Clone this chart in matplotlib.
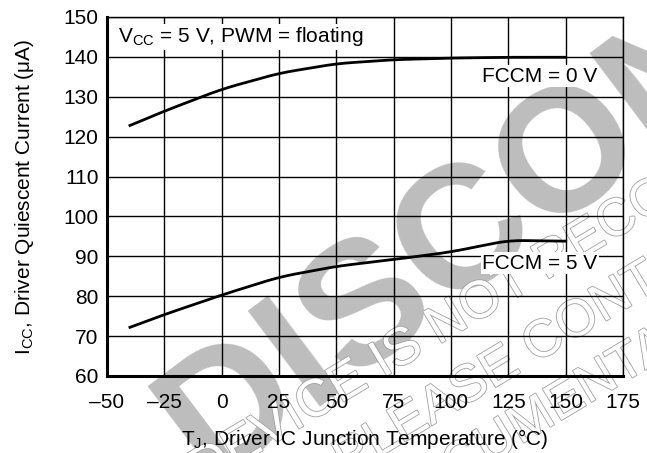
import numpy as np
import matplotlib
matplotlib.use("Agg")
import matplotlib.pyplot as plt
import matplotlib.patheffects as pe

plt.rcParams['font.family'] = ['Liberation Sans', 'DejaVu Sans']

# junction temperature (C)
temp = [-40, -25, 0, 25, 50, 75, 100, 125, 150]
# driver quiescent current (uA)
icc_fccm0 = [122.8, 126.4, 131.9, 135.9, 138.3, 139.3, 139.7, 139.9, 139.9]
icc_fccm5 = [72.2, 75.4, 80.3, 84.8, 87.5, 89.2, 91.1, 94.0, 93.8]

xticks = [-50, -25, 0, 25, 50, 75, 100, 125, 150, 175]
yticks = [60, 70, 80, 90, 100, 110, 120, 130, 140, 150]


def smooth(x, y, n=200):
    # light smoothing of the read points so the drawn curve has no corners
    xs = np.linspace(x[0], x[-1], n)
    ys = np.interp(xs, x, y)
    k = 7
    pad = np.pad(ys, k, mode='reflect', reflect_type='odd')
    ys = np.convolve(pad, np.ones(2 * k + 1) / (2 * k + 1), mode='same')[k:-k]
    return xs, ys


fig = plt.figure(figsize=(6.47, 4.53), dpi=100)
ax = fig.add_axes([0.1654, 0.170, 0.7976, 0.7925])
ax.set_facecolor('none')

# watermark
gray = '#bdbdbd'
fig.text(0.322, -0.065, 'DISCONTINUED', fontsize=126, fontweight='bold', color=gray,
         rotation=37, rotation_mode='anchor', ha='left', va='baseline', zorder=-5)
outline = [pe.withStroke(linewidth=1.2, foreground='#a0a0a0')]
for (xx, yy), s in zip([(0.312, -0.075), (0.535, -0.053), (0.598, -0.159)],
                       ['DEVICE IS NOT RECOMMENDED FOR NEW DESIGNS',
                        'PLEASE CONTACT TI FOR',
                        'DOCUMENTATION']):
    fig.text(xx, yy, s, fontsize=38, color='white', rotation=31,
             rotation_mode='anchor', ha='left', va='baseline', zorder=-4,
             path_effects=outline)

xs, ys = smooth(temp, icc_fccm0)
ax.plot(xs, ys, color='black', lw=2, zorder=3)
xs, ys = smooth(temp, icc_fccm5)
ax.plot(xs, ys, color='black', lw=2, zorder=3)

ax.set_xlim(-50, 175)
ax.set_ylim(60, 150)
ax.set_xticks(xticks)
ax.set_yticks(yticks)
ax.set_xticklabels(['\u201350', '\u201325'] + [str(t) for t in xticks[2:]])
ax.tick_params(length=0, labelsize=15)
ax.tick_params(axis='x', pad=12)
ax.tick_params(axis='y', pad=6)
ax.grid(True, color='black', lw=1)
for s in ['left', 'bottom']:
    ax.spines[s].set_linewidth(2.2)
for s in ['top', 'right']:
    ax.spines[s].set_linewidth(1)

ax.set_xlabel('T$_\\mathregular{J}$, Driver IC Junction Temperature (\u00b0C)', fontsize=15, labelpad=11)
ax.set_ylabel('I$_\\mathregular{CC}$, Driver Quiescent Current (\u03bcA)', fontsize=15, labelpad=20)

box = dict(facecolor='white', edgecolor='none', pad=1)
ax.text(-45, 145, 'V$_\\mathregular{CC}$ = 5 V, PWM = floating', fontsize=15,
        va='center', ha='left', bbox=box, zorder=4)
ax.text(163.7, 135.2, 'FCCM = 0 V', fontsize=15, va='center', ha='right', bbox=box, zorder=4)
ax.text(163.7, 88.3, 'FCCM = 5 V', fontsize=15, va='center', ha='right', bbox=box, zorder=4)

fig.savefig('out.png', dpi=100)
